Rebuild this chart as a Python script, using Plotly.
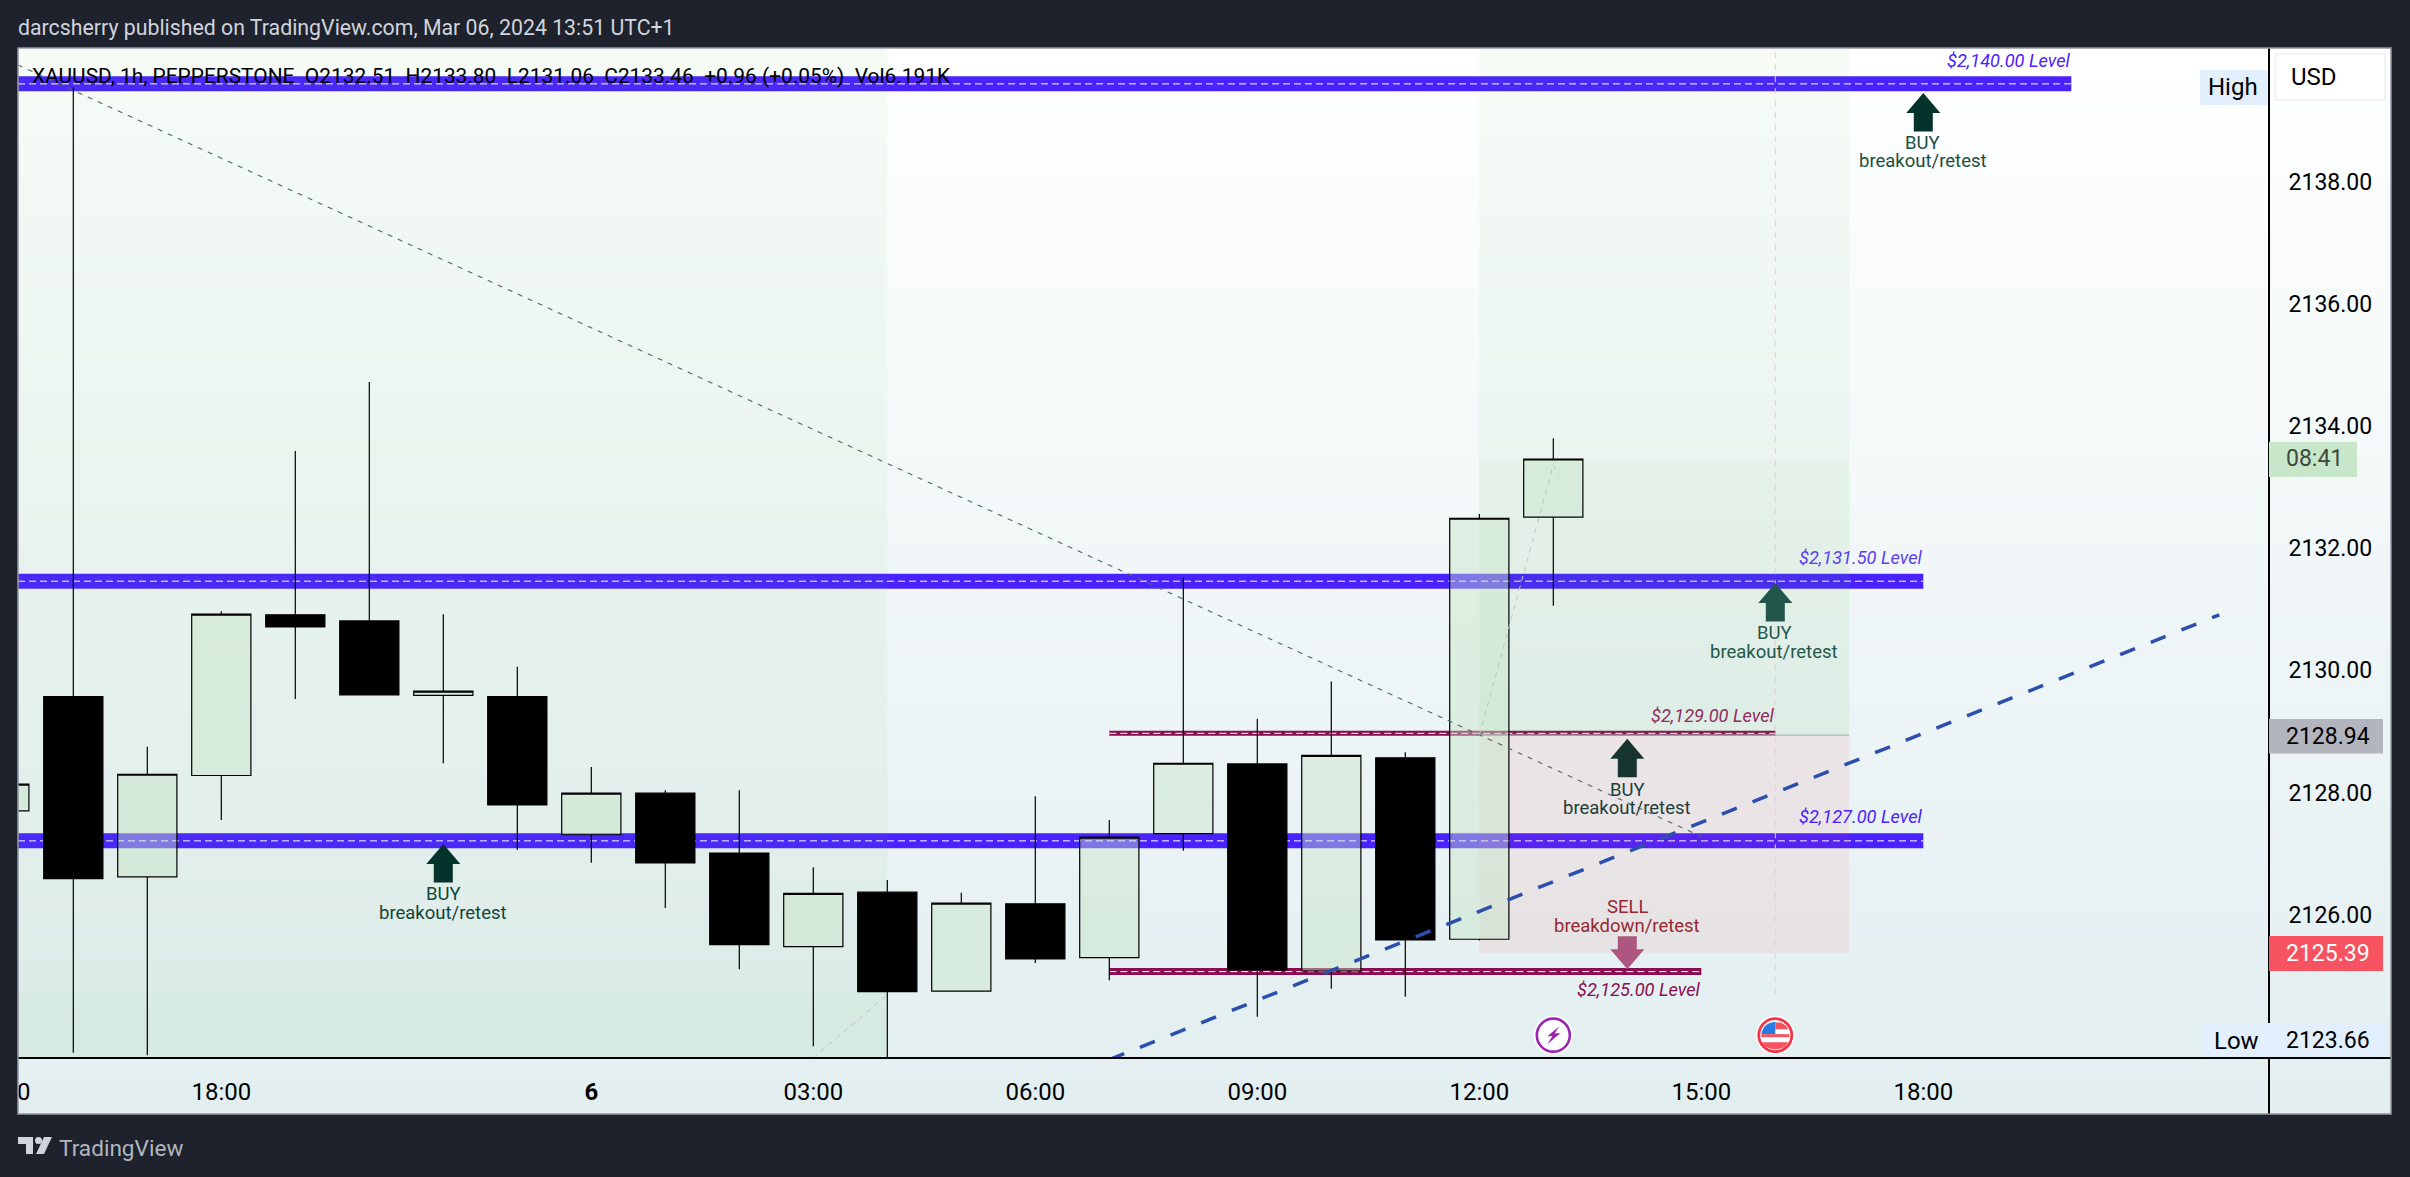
import plotly.graph_objects as go

# ---------- data ----------
candle_idx = list(range(-3, 19))
opens  = [2127.70, 2129.57, 2126.62, 2128.28, 2130.91, 2130.81, 2129.59, 2129.57, 2127.31, 2127.99, 2127.01,
          2125.48, 2126.37, 2124.75, 2126.18, 2125.30, 2127.33, 2128.47, 2125.08, 2128.57, 2125.60, 2132.51]
highs  = [2128.14, 2139.54, 2128.75, 2130.97, 2133.59, 2134.72, 2130.92, 2130.06, 2128.42, 2128.04, 2128.04,
          2126.78, 2126.57, 2126.36, 2127.94, 2127.55, 2131.52, 2129.21, 2129.82, 2128.66, 2132.56, 2133.80]
lows   = [2127.70, 2123.74, 2123.70, 2127.55, 2129.53, 2129.59, 2128.48, 2127.06, 2126.85, 2126.11, 2125.11,
          2123.85, 2123.66, 2124.74, 2125.21, 2124.93, 2127.05, 2124.33, 2124.79, 2124.66, 2125.58, 2131.06]
closes = [2128.14, 2126.59, 2128.30, 2130.92, 2130.71, 2129.60, 2129.66, 2127.80, 2127.99, 2126.85, 2125.51,
          2126.35, 2124.74, 2126.19, 2125.28, 2127.27, 2128.48, 2125.10, 2128.61, 2125.59, 2132.49, 2133.46]

tick_idx = [-2.67, 0, 5, 8, 11, 14, 17, 20, 23]
tick_labels = ["0", "18:00", "<b>6</b>", "03:00", "06:00", "09:00", "12:00", "15:00", "18:00"]
price_ticks = [2126, 2128, 2130, 2132, 2134, 2136, 2138]

band_values = [2139.60, 2131.46, 2127.21]
band_ends = [25, 23, 23]
red_values = [2128.97, 2125.07]
red_starts = [12, 12]
red_ends = [21, 20]
red_widths = [5, 7]

level_labels = ["$2,140.00 Level", "$2,131.50 Level", "$2,127.00 Level", "$2,129.00 Level", "$2,125.00 Level"]

trend_x = [12, 27]
trend_y = [2123.63, 2130.91]
dash1_x = [-2.75, 20]
dash1_y = [2139.91, 2127.28]
dash2a_x = [8, 9]
dash2a_y = [2123.66, 2124.69]
dash2b_x = [17, 18, 18.08]
dash2b_y = [2128.94, 2133.36, 2133.2]

zone1_x = [-3.5, 9]
zone1_split = 2124.75
zone2_x = [17, 22]
zone2_levels = [2133.455, 2128.94, 2125.37]
high_value = 2139.54
pane_low = 2123.656
pane_high = 2140.187

arrow_up_x = [23, 21, 19, 3]
arrow_up_y = [2139.45, 2131.43, 2128.88, 2127.16]
arrow_up_colors = ["#03332b", "#22564a", "#17352f", "#03332b"]
arrow_dn_x = [19]
arrow_dn_y = [2125.11]

event_x = [18, 21]
event_y = 2124.03

# ---------- geometry ----------
W, H = 2410, 1177
FL, FR, FT, FB = 18, 2391, 48, 1114   # frame
PR, PB = 2269, 1058                   # pane
FONT = "Roboto"
BLACK = "#000000"

def fx(px):
    return px / W

def fy(py):
    return 1 - py / H

x_per_px = 1 / 74.0
x_left = (FL - 221.3) * x_per_px
x_right = (PR - 221.3) * x_per_px

fig = go.Figure()

# gradient background of the whole frame
fig.add_trace(go.Heatmap(
    x=[0, 1], y=[0, 1], z=[[1, 1], [0, 0]], zsmooth="best", showscale=False, hoverinfo="skip",
    colorscale=[[0, "#ffffff"], [1, "#e2eef0"]], zmin=0, zmax=1, xaxis="x", yaxis="y",
))

fig.add_trace(go.Scatter(
    x=trend_x, y=trend_y, mode="lines", xaxis="x2", yaxis="y2", hoverinfo="skip", showlegend=False,
    line=dict(color="#2c4fae", width=3.5, dash="16px,17px"),
))
fig.add_trace(go.Scatter(
    x=dash1_x, y=dash1_y, mode="lines", xaxis="x2", yaxis="y2", hoverinfo="skip", showlegend=False,
    line=dict(color="#486a63", width=1.1, dash="5px,6px"),
))
for xs, ys in ((dash2a_x, dash2a_y), (dash2b_x, dash2b_y)):
    fig.add_trace(go.Scatter(
        x=xs, y=ys, mode="lines", xaxis="x2", yaxis="y2", hoverinfo="skip", showlegend=False,
        line=dict(color="#b9c4c6", width=1, dash="5px,5px"),
    ))

fig.add_trace(go.Candlestick(
    x=candle_idx, open=opens, high=highs, low=lows, close=closes, xaxis="x2", yaxis="y2",
    increasing=dict(fillcolor="rgba(198,227,199,0.44)", line=dict(color=BLACK, width=1.2)),
    decreasing=dict(fillcolor=BLACK, line=dict(color=BLACK, width=1.2)),
    whiskerwidth=0, showlegend=False, hoverinfo="skip",
))

shapes = []

def hline(x0, x1, y, color, width, dash="solid", layer="below"):
    shapes.append(dict(type="line", xref="x2", yref="y2", x0=x0, x1=x1, y0=y, y1=y, layer=layer,
                       line=dict(color=color, width=width, dash=dash)))

def zone(x0, x1, y0, y1, fill):
    shapes.append(dict(type="rect", xref="x2", yref="y2", x0=x0, x1=x1, y0=y0, y1=y1, layer="below",
                       fillcolor=fill, line=dict(width=0)))

for v, e in zip(band_values, band_ends):
    hline(x_left, e, v, "#4a22ff", 15)
    hline(x_left, e, v, "#ffffff", 1, "7px,4px")
for v, s, e, w in zip(red_values, red_starts, red_ends, red_widths):
    hline(s, e, v, "#880e4f", w)
    hline(s, e, v, "#ffffff", 1, "7px,4px")

G = "76,175,80"
zone(zone1_x[0], zone1_x[1], zone1_split, pane_high + 1, f"rgba({G},0.05)")
zone(zone1_x[0], zone1_x[1], pane_low - 1, zone1_split, f"rgba({G},0.09)")
zone(zone2_x[0], zone2_x[1], zone2_levels[0], pane_high + 1, f"rgba({G},0.05)")
zone(zone2_x[0], zone2_x[1], zone2_levels[1], zone2_levels[0], f"rgba({G},0.09)")
zone(zone2_x[0], zone2_x[1], zone2_levels[2], zone2_levels[1], "rgba(242,54,69,0.075)")
hline(zone2_x[0], zone2_x[1], zone2_levels[1], "#aeb3bb", 1.2)

# dotted "High" line and the pink session line
shapes.append(dict(type="line", xref="paper", yref="y2", x0=fx(FL), x1=fx(2200), y0=high_value, y1=high_value,
                   layer="below", line=dict(color="#8b8f98", width=1, dash="1px,2px")))
shapes.append(dict(type="line", xref="x2", yref="y2", x0=21, x1=21, y0=2124.7, y1=pane_high, layer="below",
                   line=dict(color="#f2c8d6", width=1, dash="6px,6px")))

# arrows, sized in pixels, anchored on the price scale
UP = "M0,0 L17,-20 L9.5,-20 L9.5,-38.5 L-9.5,-38.5 L-9.5,-20 L-17,-20 Z"
DOWN = "M0,0 L17,20 L9.5,20 L9.5,33 L-9.5,33 L-9.5,20 L-17,20 Z"
for ax, ay, col in zip(arrow_up_x, arrow_up_y, arrow_up_colors):
    shapes.append(dict(type="path", xref="x2", yref="y2", xsizemode="pixel", ysizemode="pixel",
                       xanchor=ax, yanchor=ay, path=UP, fillcolor=col, line=dict(width=0), layer="below"))
for ax, ay in zip(arrow_dn_x, arrow_dn_y):
    shapes.append(dict(type="path", xref="x2", yref="y2", xsizemode="pixel", ysizemode="pixel",
                       xanchor=ax, yanchor=ay, path=DOWN, fillcolor="#ad5780", line=dict(width=0), layer="below"))

def pix_circle(ax, r, fill, line_color=None, line_width=0):
    shapes.append(dict(type="circle", xref="x2", yref="y2", xsizemode="pixel", ysizemode="pixel",
                       xanchor=ax, yanchor=event_y, x0=-r, x1=r, y0=-r, y1=r, fillcolor=fill, layer="above",
                       line=dict(color=line_color or fill, width=line_width)))

def pix_path(ax, path, fill):
    shapes.append(dict(type="path", xref="x2", yref="y2", xsizemode="pixel", ysizemode="pixel",
                       xanchor=ax, yanchor=event_y, path=path, fillcolor=fill, line=dict(width=0), layer="above"))

# lightning event
pix_circle(event_x[0], 19.5, "#ffffff")
pix_circle(event_x[0], 16.5, "#ffffff", "#9c27b0", 2.6)
pix_path(event_x[0], "M6,9 L-6,-1 L-1,-1 L-6,-9 L7,2 L1.5,2 Z", "#9c27b0")
# US flag event
pix_circle(event_x[1], 19.5, "#ffffff")
pix_circle(event_x[1], 16.5, "#ffffff", "#f23645", 2.8)
pix_path(event_x[1], "M-14,1 L0,1 L0,13.5 C-8,13 -13,8 -14,1 Z", "#2c7be5")
pix_path(event_x[1], "M0,13 C7,13 11,10 13,6 L0,6 Z", "#f7525f")
pix_path(event_x[1], "M-14,-7 L13,-7 C11,-11 7,-14 0,-14 C-7,-14 -11,-11 -14,-7 Z", "#f7525f")
pix_path(event_x[1], "M-14,-2 L14,-2 L14,1 L-14,1 Z", "#f7525f")

# right-hand price tags and frame lines (drawn in page pixels)
def rect(x0, x1, y0, y1, fill, line=None, lw=0):
    shapes.append(dict(type="rect", xref="paper", yref="paper", x0=fx(x0), x1=fx(x1), y0=fy(y1), y1=fy(y0),
                       fillcolor=fill, line=dict(color=line or fill, width=lw), layer="above"))

def pline(x0, y0, x1, y1, color, width):
    shapes.append(dict(type="line", xref="paper", yref="paper", x0=fx(x0), x1=fx(x1), y0=fy(y0), y1=fy(y1),
                       line=dict(color=color, width=width), layer="above"))

pline(FL, PB, FR, PB, BLACK, 2)
pline(PR, FT, PR, FB, BLACK, 2)
rect(2275.5, 2385, 54, 100, "#ffffff", "#eff0f4", 1.5)
rect(2200, 2268, 70, 105, "#e3effd")
rect(2202, 2386, 1023, 1057, "#e3effd")
rect(2269, 2357, 442, 477, "#c8e6c9")
rect(2269, 2383, 719, 753.5, "#b2b5be")
rect(2269, 2383, 936, 971, "#f7525f")
rect(FL, FR, FT, FB, "rgba(0,0,0,0)", "#9598a1", 1.5)

# TradingView logo
for path in ("M0,0 L15,0 L15,-17 L8,-17 L8,-7 L0,-7 Z", "M34,0 L26,-17 L18,-17 L26,0 Z"):
    shapes.append(dict(type="path", xref="paper", yref="paper", xsizemode="pixel", ysizemode="pixel",
                       xanchor=fx(18), yanchor=fy(1137), path=path,
                       fillcolor="#d1d4dc", line=dict(width=0), layer="above"))
shapes.append(dict(type="circle", xref="paper", yref="paper", xsizemode="pixel", ysizemode="pixel",
                   xanchor=fx(18), yanchor=fy(1137), x0=17, x1=24, y0=-7, y1=0, fillcolor="#d1d4dc",
                   line=dict(width=0), layer="above"))

anns = []

def text(s, x, y, size, color, anchor="center"):
    anns.append(dict(text=s, x=fx(x), y=fy(y), xref="paper", yref="paper", xanchor=anchor, yanchor="middle",
                     showarrow=False, font=dict(family=FONT, size=size, color=color), borderpad=0, borderwidth=0))

text("darcsherry published on TradingView.com, Mar 06, 2024 13:51 UTC+1", 18, 28, 21.3, "#d1d4dc", "left")
text("XAUUSD, 1h, PEPPERSTONE  O2132.51  H2133.80  L2131.06  C2133.46  +0.96 (+0.05%)  Vol6.191K",
     32, 76, 20.9, BLACK, "left")
text("TradingView", 59, 1148, 22.6, "#b2b5be", "left")

text("USD", 2291, 77, 24, BLACK, "left")
text("High", 2233, 87, 24, BLACK)
text("Low", 2236, 1040.5, 24, BLACK)
text("2123.66", 2327.5, 1040.5, 23, BLACK)
text("08:41", 2314, 459, 23, "#3c4a40")
text("2128.94", 2327.5, 736, 23, BLACK)
text("2125.39", 2327.5, 953.5, 23, "#ffffff")

label_styles = [(2070, 60.5, "#4a22ff"), (1922, 557, "#5c40f0"), (1922, 817, "#4a22ff"),
                (1774, 715, "#8e2d5e"), (1700, 989.5, "#880e4f")]
for s, (x, y, c) in zip(level_labels, label_styles):
    text(f"<i>{s}</i>", x, y, 18.2, c, "right")

note_styles = [(1922.5, 143, 161, "#1a4f43", "BUY", "breakout/retest"),
               (1774, 633, 652, "#23584a", "BUY", "breakout/retest"),
               (1627, 790, 808, "#1d3f38", "BUY", "breakout/retest"),
               (443.3, 894, 912.5, "#0f463c", "BUY", "breakout/retest"),
               (1627, 907, 925.5, "#962832", "SELL", "breakdown/retest")]
for x, y1, y2, c, a, b in note_styles:
    text(a, x, y1, 18.5, c)
    text(b, x, y2, 18.5, c)

fig.update_layout(
    width=W, height=H, autosize=False, margin=dict(l=0, r=0, t=0, b=0, pad=0),
    paper_bgcolor="#1e222d", plot_bgcolor="rgba(0,0,0,0)", showlegend=False,
    font=dict(family=FONT, size=24, color=BLACK), boxgap=0.2, boxgroupgap=0,
    xaxis=dict(domain=[fx(FL), fx(FR)], range=[0, 1], visible=False, fixedrange=True),
    yaxis=dict(domain=[fy(FB), fy(FT)], range=[0, 1], visible=False, fixedrange=True),
    xaxis2=dict(
        domain=[fx(FL), fx(PR)], range=[x_left, x_right], anchor="y2", showgrid=False, zeroline=False,
        rangeslider=dict(visible=False), tickmode="array", tickvals=tick_idx, ticktext=tick_labels,
        ticks="outside", ticklen=12, tickcolor="rgba(0,0,0,0)", tickfont=dict(family=FONT, size=24, color=BLACK),
        showline=False,
    ),
    yaxis2=dict(
        domain=[fy(PB), fy(FT)], range=[pane_low, pane_high], anchor="x2", side="right", showgrid=False,
        zeroline=False, tickmode="array", tickvals=price_ticks, tickformat=".2f",
        ticks="outside", ticklen=14, tickcolor="rgba(0,0,0,0)", tickfont=dict(family=FONT, size=23, color=BLACK),
        showline=False,
    ),
    shapes=shapes, annotations=anns,
)

fig.write_html("out.html", config={"displayModeBar": False},
               post_script="document.body.style.margin='0';document.body.style.background='#1e222d';")
